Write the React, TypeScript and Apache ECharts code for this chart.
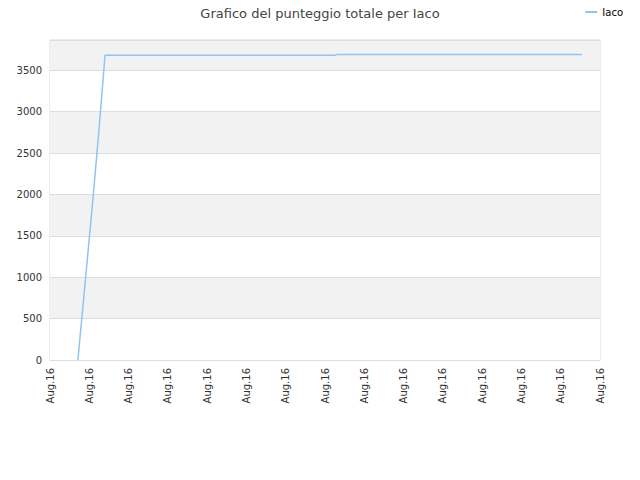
import React, { useEffect, useRef } from 'react';
import * as echarts from 'echarts';

const xTickLabels = ['Aug.16', 'Aug.16', 'Aug.16', 'Aug.16', 'Aug.16', 'Aug.16', 'Aug.16', 'Aug.16', 'Aug.16', 'Aug.16', 'Aug.16', 'Aug.16', 'Aug.16', 'Aug.16', 'Aug.16'];
// positions along the time axis (in tick units) and total score
const timePos = [0.71, 0.9, 1.09, 1.25, 1.37, 1.4, 7.28, 7.28, 13.54];
const scores = [0, 960, 1930, 2800, 3500, 3681, 3681, 3690, 3690];

export default function App() {
  const chartRef = useRef<HTMLDivElement>(null);

  useEffect(() => {
    const chart = echarts.init(chartRef.current, null, { renderer: 'svg' });

    const option = {
      animation: false,
      title: {
        text: 'Grafico del punteggio totale per Iaco',
        left: 'center',
        top: 2,
        textStyle: { fontFamily: 'DejaVu Sans', fontSize: 13, fontWeight: 'normal', color: '#444' }
      },
      legend: {
        right: 12,
        top: 2,
        itemWidth: 12,
        itemHeight: 2,
        icon: 'rect',
        textStyle: { fontFamily: 'DejaVu Sans', fontSize: 10, color: '#000' },
        data: ['Iaco']
      },
      grid: {
        left: 50,
        right: 40,
        top: 40,
        bottom: 120,
        show: true,
        borderColor: '#ddd',
        borderWidth: 1
      },
      xAxis: {
        type: 'value',
        min: 0,
        max: 14,
        interval: 1,
        axisLine: { lineStyle: { color: '#ddd' } },
        axisTick: { show: false },
        splitLine: { show: false },
        axisLabel: {
          rotate: 90,
          fontFamily: 'DejaVu Sans',
          fontSize: 10,
          color: '#333',
          formatter: (v: number) => xTickLabels[Math.round(v)] ?? ''
        }
      },
      yAxis: {
        type: 'value',
        min: 0,
        max: 3865,
        interval: 500,
        axisLine: { show: false },
        axisTick: { show: false },
        splitLine: { lineStyle: { color: '#ddd' } },
        splitArea: { show: true, areaStyle: { color: ['#ffffff', '#f2f2f2'] } },
        axisLabel: {
          fontFamily: 'DejaVu Sans',
          fontSize: 10,
          color: '#333',
          showMaxLabel: false,
          formatter: (v: number) => String(v)
        }
      },
      series: [
        {
          name: 'Iaco',
          type: 'line',
          data: timePos.map((x, i) => [x, scores[i]]),
          showSymbol: false,
          itemStyle: { color: '#92c3f0' },
          lineStyle: { color: '#92c3f0', width: 1.5 }
        }
      ]
    };

    chart.setOption(option);
    return () => chart.dispose();
  }, []);

  return <div ref={chartRef} style={{ width: 640, height: 480, margin: -8 }} />;
}
